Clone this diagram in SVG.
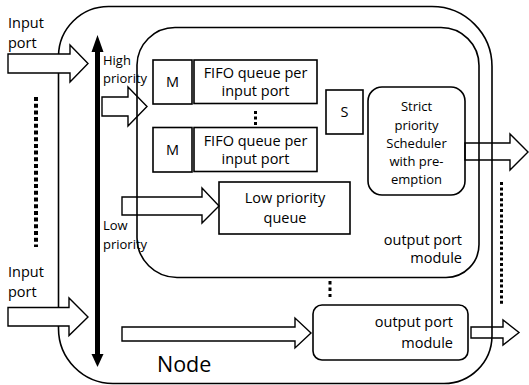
<svg xmlns="http://www.w3.org/2000/svg" width="529" height="385" viewBox="0 0 529 385">
  <style>
    .ln { fill: none; stroke: #000; stroke-width: 1.6; }
    .box { fill: #fff; stroke: #000; stroke-width: 1.6; }
    .arw { fill: #fff; stroke: #000; stroke-width: 1.4; stroke-linejoin: miter; }
    .arwo { fill: none; stroke: #000; stroke-width: 1.4; stroke-linejoin: miter; }
    .dots { fill: none; stroke: #000; }
    text { font-family: "Open Sans", "Liberation Sans", sans-serif; fill: #000; }
    .t { font-size: 14.5px; }
    .s { font-size: 13px; }
    .c { text-anchor: middle; }
    .r { text-anchor: end; }
  </style>
  <rect width="529" height="385" fill="#fff"/>

  <!-- Node enclosure -->
  <g id="node">
    <path class="ln" d="M58.5,56 A50,50 0 0 1 108.5,6.5 H432 A60,60 0 0 1 492,66.5 V336 A48,48 0 0 1 444,383.5 H113 A55,55 0 0 1 58.5,328.5 Z"/>
    <text x="157" y="372" style="font-size:21.5px">Node</text>
  </g>

  <!-- Output port module (expanded) -->
  <g id="opm1">
    <path class="ln" d="M137,65 A38,38 0 0 1 175,27.5 H441 A38,38 0 0 1 479,65.5 V244 A33,33 0 0 1 446,277.5 H177 A40,40 0 0 1 137,237.5 Z"/>
    <text class="t r" x="462" y="245">output port</text>
    <text class="t r" x="462" y="263">module</text>
  </g>

  <g id="m1">
    <rect class="box" x="153" y="60" width="39" height="44"/>
    <text class="t c" x="172.5" y="87">M</text>
  </g>
  <g id="fifo1">
    <rect class="box" x="194" y="60" width="123" height="43.5"/>
    <text class="t c" x="255.5" y="78">FIFO queue per</text>
    <text class="t c" x="255.5" y="96">input port</text>
  </g>
  <g id="m2">
    <rect class="box" x="153" y="127.5" width="39" height="44.5"/>
    <text class="t c" x="172.5" y="155">M</text>
  </g>
  <g id="fifo2">
    <rect class="box" x="194" y="127.5" width="123" height="44"/>
    <text class="t c" x="255.5" y="146">FIFO queue per</text>
    <text class="t c" x="255.5" y="164">input port</text>
  </g>
  <g id="s">
    <rect class="box" x="326" y="90" width="37" height="44"/>
    <text class="t c" x="344.5" y="117">S</text>
  </g>
  <g id="scheduler">
    <rect class="box" x="368" y="87" width="97" height="108" rx="14"/>
    <text class="s c" x="416.5" y="111">Strict</text>
    <text class="s c" x="416.5" y="130">priority</text>
    <text class="s c" x="416.5" y="148">Scheduler</text>
    <text class="s c" x="416.5" y="166">with pre-</text>
    <text class="s c" x="416.5" y="184">emption</text>
  </g>
  <g id="lpq">
    <rect class="box" x="219" y="182" width="131" height="52"/>
    <text class="t c" x="285" y="203">Low priority</text>
    <text class="t c" x="285" y="223">queue</text>
  </g>

  <!-- Output port module (collapsed) -->
  <g id="opm2">
    <rect class="box" x="313" y="305" width="155" height="55" rx="9"/>
    <text class="t r" x="453" y="327">output port</text>
    <text class="t r" x="453" y="348">module</text>
  </g>

  <!-- Labels -->
  <g id="labels">
    <text class="t" x="8" y="28">Input</text>
    <text class="t" x="8" y="48">port</text>
    <text class="t" x="8" y="277">Input</text>
    <text class="t" x="8" y="297">port</text>
    <text class="s" x="103" y="65">High</text>
    <text class="s" x="103" y="83">priority</text>
    <text class="s" x="103" y="230">Low</text>
    <text class="s" x="103" y="249">priority</text>
  </g>

  <!-- Connectors -->
  <g id="connectors">
    <!-- priority axis -->
    <line x1="97.5" y1="50" x2="97.5" y2="357" stroke="#000" stroke-width="5"/>
    <polygon points="97.5,35 91.5,52 103.5,52" fill="#000"/>
    <polygon points="97.5,367 91.5,354 103.5,354" fill="#000"/>

    <!-- input ports -->
    <path class="arw" d="M8,54 H70 V45 L88,63.5 L70,82 V73 H8 Z"/>
    <path class="arw" d="M8,307.5 H69 V298 L88,317 L69,335.5 V326 H8 Z"/>

    <!-- internal block arrows -->
    <path class="arwo" d="M102,97 H128 V87 L147,106.5 L128,126 V116 H102 Z"/>
    <path class="arwo" d="M122,197 H202 V188 L219,206 L202,223 V215 H122 Z"/>
    <path class="arwo" d="M122,327 H295 V318 L311,333 L295,348 V341 H122 Z"/>

    <!-- output ports -->
    <path class="arwo" d="M465,143 H510 V134 L528,152 L510,170 V160 H465 Z"/>
    <path class="arwo" d="M471,327 H503 V320 L519,332.5 L503,345 V338 H471 Z"/>

    <!-- ellipsis marks -->
    <line class="dots" x1="36" y1="97" x2="36" y2="247" stroke-width="4" stroke-dasharray="4 2.7"/>
    <line class="dots" x1="501.5" y1="182" x2="501.5" y2="305" stroke-width="3" stroke-dasharray="3 2.4"/>
    <line class="dots" x1="255.5" y1="111" x2="255.5" y2="125" stroke-width="3" stroke-dasharray="3 2.5"/>
    <line class="dots" x1="330" y1="281" x2="330" y2="297" stroke-width="3" stroke-dasharray="3.5 3"/>
  </g>
</svg>
